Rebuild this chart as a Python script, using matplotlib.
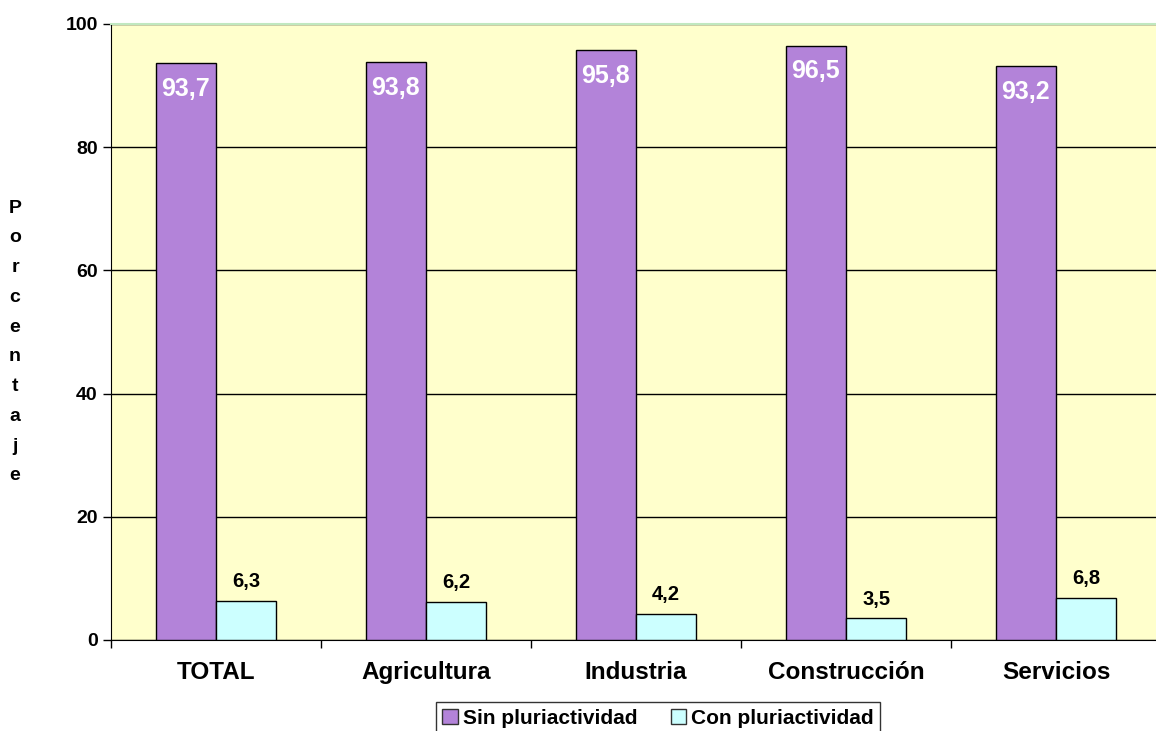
import matplotlib
matplotlib.use("Agg")
import matplotlib.pyplot as plt
import numpy as np

categories = ["TOTAL", "Agricultura", "Industria", "Construcción", "Servicios"]
sin_plur = [93.7, 93.8, 95.8, 96.5, 93.2]
con_plur = [6.3, 6.2, 4.2, 3.5, 6.8]
series_names = ["Sin pluriactividad", "Con pluriactividad"]

plt.rcParams["font.family"] = ["Liberation Sans", "DejaVu Sans"]
plt.rcParams["font.weight"] = "bold"

purple = "#B383D9"
cyan = "#CCFFFF"

fig = plt.figure(figsize=(11.56, 7.31), dpi=100)
ax = fig.add_axes([111 / 1156, 1 - 640 / 731, 1050 / 1156, 616 / 731])
ax.set_facecolor("#FFFFCC")

x = np.arange(len(categories))
w = 0.288
b1 = ax.bar(x - w / 2, sin_plur, w, color=purple, edgecolor="black", linewidth=1, label=series_names[0], zorder=3)
b2 = ax.bar(x + w / 2, con_plur, w, color=cyan, edgecolor="black", linewidth=1, label=series_names[1], zorder=3)

for rect, v in zip(b1, sin_plur):
    ax.annotate(f"{v:.1f}".replace(".", ","), (rect.get_x() + rect.get_width() / 2, v),
                xytext=(0, -10), textcoords="offset points", ha="center", va="top",
                color="white", fontsize=18, fontweight="bold", zorder=4)
for rect, v in zip(b2, con_plur):
    ax.annotate(f"{v:.1f}".replace(".", ","), (rect.get_x() + rect.get_width() / 2, v),
                xytext=(0, 7), textcoords="offset points", ha="center", va="bottom",
                color="black", fontsize=14.5, fontweight="bold", zorder=4)

ax.set_xlim(-0.5, len(categories) - 0.5)
ax.set_ylim(0, 100)
ax.set_yticks([0, 20, 40, 60, 80, 100])
ax.tick_params(axis="y", labelsize=14, length=6, direction="out", width=1)
ax.yaxis.grid(True, color="black", linewidth=1, zorder=1)
ax.set_axisbelow(True)

ax.set_xticks(x)
ax.set_xticklabels(categories, fontsize=17.5, fontweight="bold")
ax.tick_params(axis="x", length=0, pad=15)
ax.set_xticks(np.arange(len(categories) + 1) - 0.5, minor=True)
ax.tick_params(axis="x", which="minor", length=6, width=1)

ax.spines["top"].set_color("#C0E8C0")
ax.spines["top"].set_linewidth(1.5)
ax.spines["right"].set_visible(False)
ax.spines["left"].set_color("black")
ax.spines["bottom"].set_color("black")

fig.text(15 / 1156, 1 - 342 / 731, "\n".join("Porcentaje"), ha="center", va="center",
         fontsize=14, fontweight="bold", linespacing=1.98)

leg = fig.legend(loc="upper center", bbox_to_anchor=(658 / 1156, 1 - 694 / 731), ncol=2,
                 frameon=True, fancybox=False, edgecolor="black",
                 handlelength=0.75, handleheight=0.75, handletextpad=0.25, columnspacing=1.6,
                 borderpad=0.3, borderaxespad=0.4, prop={"weight": "bold", "size": 15})
leg.get_frame().set_linewidth(1)
for h in leg.legend_handles:
    h.set_edgecolor("#333333")

fig.savefig("out.png", dpi=100)
